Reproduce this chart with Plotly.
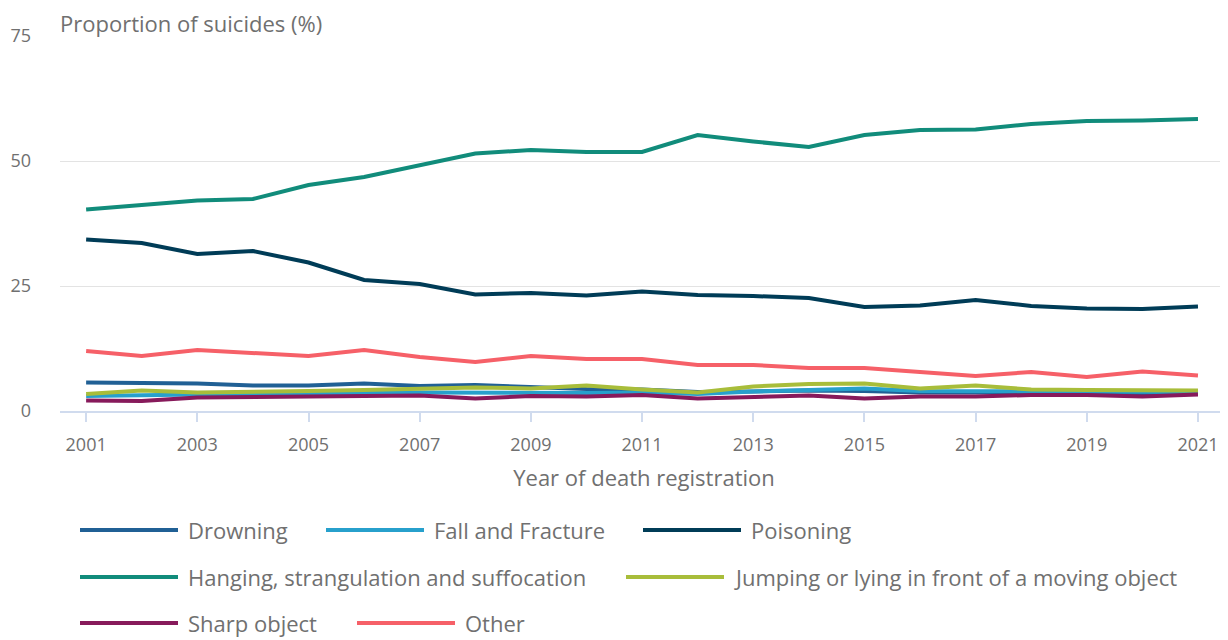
import plotly.graph_objects as go

years = list(range(2001, 2022))

drowning = [5.7, 5.7, 5.5, 5.1, 5.1, 5.5, 5.0, 5.2, 4.7, 4.4, 4.3, 3.8, 3.9, 4.1, 4.0, 3.7, 3.7, 3.6, 3.6, 3.5, 3.6]
fall_fracture = [3.0, 3.2, 3.3, 3.4, 3.4, 3.6, 3.7, 3.6, 3.7, 3.6, 3.7, 3.4, 3.9, 4.2, 4.5, 4.0, 4.0, 3.9, 3.9, 3.8, 3.8]
poisoning = [34.3, 33.6, 31.4, 32.0, 29.7, 26.2, 25.4, 23.3, 23.6, 23.1, 23.9, 23.2, 23.0, 22.6, 20.8, 21.1, 22.2, 21.0, 20.5, 20.4, 20.9]
hanging = [40.3, 41.1, 42.1, 42.4, 45.2, 46.8, 49.1, 51.5, 52.2, 51.8, 51.8, 55.2, 53.9, 52.8, 55.2, 56.2, 56.3, 57.4, 58.0, 58.1, 58.4]
jumping = [3.4, 4.1, 3.7, 3.8, 4.0, 4.2, 4.5, 4.7, 4.5, 5.1, 4.3, 3.7, 4.9, 5.4, 5.5, 4.5, 5.1, 4.3, 4.2, 4.2, 4.1]
sharp_object = [2.1, 2.0, 2.7, 2.7, 2.9, 3.0, 3.1, 2.5, 3.0, 2.9, 3.2, 2.5, 2.8, 3.1, 2.5, 2.9, 2.9, 3.2, 3.2, 2.9, 3.3]
other = [12.0, 11.0, 12.2, 11.6, 11.0, 12.2, 10.8, 9.8, 11.0, 10.4, 10.4, 9.2, 9.2, 8.6, 8.6, 7.8, 7.0, 7.8, 6.8, 7.9, 7.1]

series_names = ["Drowning", "Fall and Fracture", "Poisoning",
                "Hanging, strangulation and suffocation",
                "Jumping or lying in front of a moving object",
                "Sharp object", "Other"]
series_values = [drowning, fall_fracture, poisoning, hanging, jumping, sharp_object, other]
series_colors = ["#206095", "#27a0cc", "#003c57", "#118c7b", "#a8bd3a", "#871a5b", "#f66068"]

x_ticks = list(range(2001, 2022, 2))
y_ticks = [0, 25, 50, 75]

# page body has an 8px margin: figure occupies (8,8)-(1228,640) of the window
OFF = 8
W, H = 1228 - OFF, 640 - OFF
ML, MR, MT = 60 - OFF, 0, 36 - OFF
MB = H - (411 - OFF)
PW, PH = W - ML - MR, H - MT - MB
FONT = "Open Sans"
GREY = "#707070"

fig = go.Figure()
for name, vals, col in zip(series_names, series_values, series_colors):
    fig.add_trace(go.Scatter(x=years, y=vals, name=name, mode="lines",
                             line=dict(color=col, width=4), showlegend=False))

# custom legend; positions given in window pixels
def px_x(p):
    return (p - OFF - ML) / PW

def px_y(p):
    return (MT + PH - (p - OFF)) / PH

legend_pos = [  # (line start px, row y px)
    (80, 530), (326, 530), (643, 530),
    (80, 577), (626, 577),
    (80, 623), (357, 623),
]
shapes = []
annotations = []
for (x0, yrow), name, col in zip(legend_pos, series_names, series_colors):
    shapes.append(dict(type="line", xref="paper", yref="paper",
                       x0=px_x(x0), x1=px_x(x0 + 98), y0=px_y(yrow), y1=px_y(yrow),
                       line=dict(color=col, width=4)))
    annotations.append(dict(xref="paper", yref="paper", x=px_x(x0 + 106), y=px_y(yrow),
                            xanchor="left", yanchor="middle", showarrow=False,
                            text=name, font=dict(family=FONT, size=22, color=GREY)))

fig.update_layout(
    width=W, height=H,
    margin=dict(l=ML, r=MR, t=MT, b=MB),
    paper_bgcolor="white", plot_bgcolor="white",
    font=dict(family=FONT, size=18, color=GREY),
    title=dict(text="Proportion of suicides (%)", x=0, xref="paper", xanchor="left",
               y=1 - (24 - OFF) / H, yref="container", yanchor="middle",
               font=dict(family=FONT, size=22, color=GREY)),
    shapes=shapes, annotations=annotations,
    xaxis=dict(range=[2000.53, 2021.54], tickmode="array", tickvals=x_ticks,
               ticktext=[str(v) for v in x_ticks],
               ticks="outside", ticklen=9, tickwidth=2, tickcolor="#d0dbee",
               showline=True, linecolor="#d0dbee", linewidth=2,
               showgrid=False, zeroline=False, ticklabelstandoff=7,
               tickfont=dict(family=FONT, size=18, color=GREY),
               title=dict(text="Year of death registration", standoff=16,
                          font=dict(family=FONT, size=22, color=GREY))),
    yaxis=dict(range=[0, 75], tickmode="array", tickvals=y_ticks,
               showgrid=True, gridcolor="#e3e3e3", gridwidth=1,
               zeroline=False, showline=False, ticks="",
               ticklabelstandoff=28,
               tickfont=dict(family=FONT, size=18, color=GREY)),
)

fig.write_html("out.html")
